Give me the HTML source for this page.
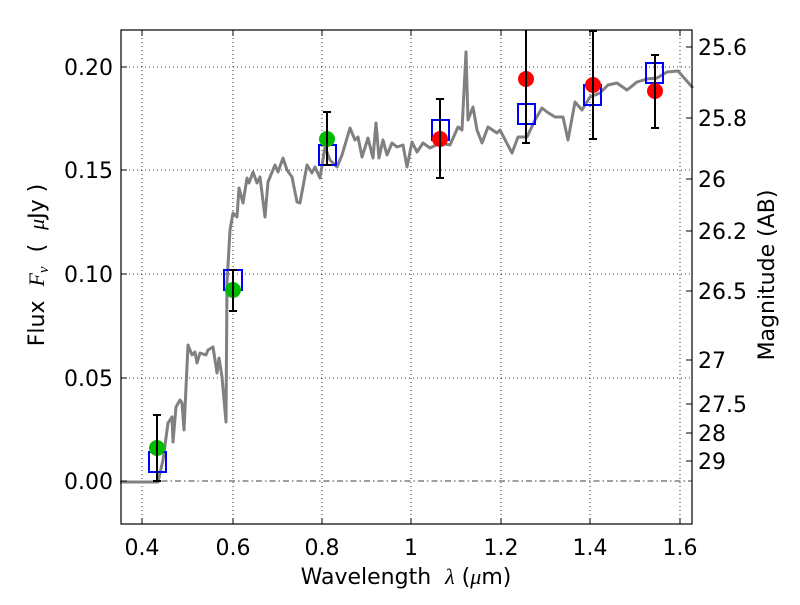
<!DOCTYPE html>
<html><head><style>body{margin:0;background:#fff}svg text{font-family:"DejaVu Sans","Liberation Sans",sans-serif;white-space:pre}</style></head><body>
<svg width="800" height="600" xmlns="http://www.w3.org/2000/svg">
<rect width="800" height="600" fill="#fff"/>
<g stroke="#000" stroke-width="0.8" stroke-dasharray="1,3">
<line x1="142" y1="30" x2="142" y2="524"/><line x1="233" y1="30" x2="233" y2="524"/><line x1="322" y1="30" x2="322" y2="524"/><line x1="411" y1="30" x2="411" y2="524"/><line x1="501" y1="30" x2="501" y2="524"/><line x1="590" y1="30" x2="590" y2="524"/><line x1="680" y1="30" x2="680" y2="524"/>
<line x1="121" y1="67" x2="692" y2="67"/><line x1="121" y1="170" x2="692" y2="170"/><line x1="121" y1="274" x2="692" y2="274"/><line x1="121" y1="378" x2="692" y2="378"/>
</g>
<line x1="121" y1="481" x2="692" y2="481" stroke="#000" stroke-width="0.8" stroke-dasharray="6,3,1.5,3"/>
<polyline fill="none" stroke="#808080" stroke-width="3" stroke-linejoin="round" points="120,482 158,482 163,460 168,423 172,417 173,442 176,407 180,400 182,403 184,430 188,345 192,355 195,352 197,363 200,353 206,355 208,350 213,347 217,373 219,358 222,377 226,422 227,283 230,230 233,213 237,217 239,188 243,203 247,178 249,183 253,172 257,183 260,177 265,217 268,182 275,165 278,172 283,158 287,170 292,177 297,202 300,203 307,165 312,173 315,167 320,178 325,147 330,160 337,167 342,155 350,128 355,140 358,137 362,157 368,138 373,158 376,123 379,158 383,140 387,155 392,143 397,147 403,145 407,167 412,142 417,152 423,143 430,148 440,143 450,145 458,127 462,130 466,52 468,120 473,107 477,130 482,143 488,127 497,133 500,130 512,153 518,137 527,137 535,120 542,108 547,112 555,117 563,117 568,140 575,102 582,110 590,97 600,93 608,85 617,83 627,90 637,82 647,79 657,78 667,72 678,71 693,88"/>
<g fill="none" stroke="#0000ff" stroke-width="2">
<rect x="149" y="452" width="17" height="20"/><rect x="224" y="270" width="18" height="20"/><rect x="319" y="145" width="17" height="20"/><rect x="432" y="120" width="17" height="20"/><rect x="518" y="104" width="17" height="20"/><rect x="584" y="85" width="17" height="20"/><rect x="646" y="63" width="17" height="20"/>
</g>
<g fill="#00bb00"><circle cx="157" cy="448" r="8"/><circle cx="233" cy="290" r="8"/><circle cx="327" cy="139" r="8"/></g>
<g fill="#ff0000"><circle cx="440" cy="139" r="8"/><circle cx="526" cy="79" r="8"/><circle cx="593" cy="85" r="8"/><circle cx="655" cy="91" r="8"/></g>
<g stroke="#000" stroke-width="2">
<line x1="157" y1="415" x2="157" y2="481"/><line x1="153" y1="415" x2="161" y2="415"/><line x1="153" y1="481" x2="161" y2="481"/>
<line x1="233" y1="270" x2="233" y2="311"/><line x1="229" y1="270" x2="237" y2="270"/><line x1="229" y1="311" x2="237" y2="311"/>
<line x1="327" y1="112" x2="327" y2="165"/><line x1="323" y1="112" x2="331" y2="112"/><line x1="323" y1="165" x2="331" y2="165"/>
<line x1="440" y1="99" x2="440" y2="178"/><line x1="436" y1="99" x2="444" y2="99"/><line x1="436" y1="178" x2="444" y2="178"/>
<line x1="526" y1="30" x2="526" y2="143"/><line x1="522" y1="143" x2="530" y2="143"/>
<line x1="593" y1="31" x2="593" y2="139"/><line x1="589" y1="31" x2="597" y2="31"/><line x1="589" y1="139" x2="597" y2="139"/>
<line x1="655" y1="55" x2="655" y2="128"/><line x1="651" y1="55" x2="659" y2="55"/><line x1="651" y1="128" x2="659" y2="128"/>
</g>
<rect x="121" y="30" width="571" height="494" fill="none" stroke="#000" stroke-width="1.2"/>
<g stroke="#000" stroke-width="1">
<path d="M142,524v-6M233,524v-6M322,524v-6M411,524v-6M501,524v-6M590,524v-6M680,524v-6M142,30v6M233,30v6M322,30v6M411,30v6M501,30v6M590,30v6M680,30v6"/>
<path d="M121,67h6M121,170h6M121,274h6M121,378h6M121,481h6"/>
<path d="M692,47h-6M692,118h-6M692,179h-6M692,231h-6M692,291h-6M692,360h-6M692,404h-6M692,433h-6M692,461h-6"/>
</g>
<g font-size="22" text-anchor="middle">
<text x="142" y="555">0.4</text><text x="233" y="555">0.6</text><text x="322" y="555">0.8</text><text x="411" y="555">1</text><text x="501" y="555">1.2</text><text x="590" y="555">1.4</text><text x="680" y="555">1.6</text>
</g>
<g font-size="22" text-anchor="end">
<text x="113" y="75">0.20</text><text x="113" y="178">0.15</text><text x="113" y="282">0.10</text><text x="113" y="386">0.05</text><text x="113" y="489">0.00</text>
</g>
<g font-size="22">
<text x="698" y="55">25.6</text><text x="698" y="126">25.8</text><text x="698" y="187">26</text><text x="698" y="239">26.2</text><text x="698" y="299">26.5</text><text x="698" y="368">27</text><text x="698" y="412">27.5</text><text x="698" y="441">28</text><text x="698" y="469">29</text>
</g>
<text x="406" y="584" font-size="22" text-anchor="middle">Wavelength  <tspan font-style="italic" font-family="Liberation Serif">λ</tspan> (<tspan font-style="italic" font-family="Liberation Serif">μ</tspan>m)</text>
<text transform="translate(44,265) rotate(-90)" font-size="22" text-anchor="middle">Flux  <tspan font-style="italic" font-family="Liberation Serif">F<tspan font-size="15" dy="4">ν</tspan></tspan><tspan dy="-4">  (  </tspan><tspan font-style="italic" font-family="Liberation Serif">μ</tspan>Jy )</text>
<text transform="translate(774,275) rotate(-90)" font-size="22" text-anchor="middle">Magnitude (AB)</text>
</svg>
</body></html>
